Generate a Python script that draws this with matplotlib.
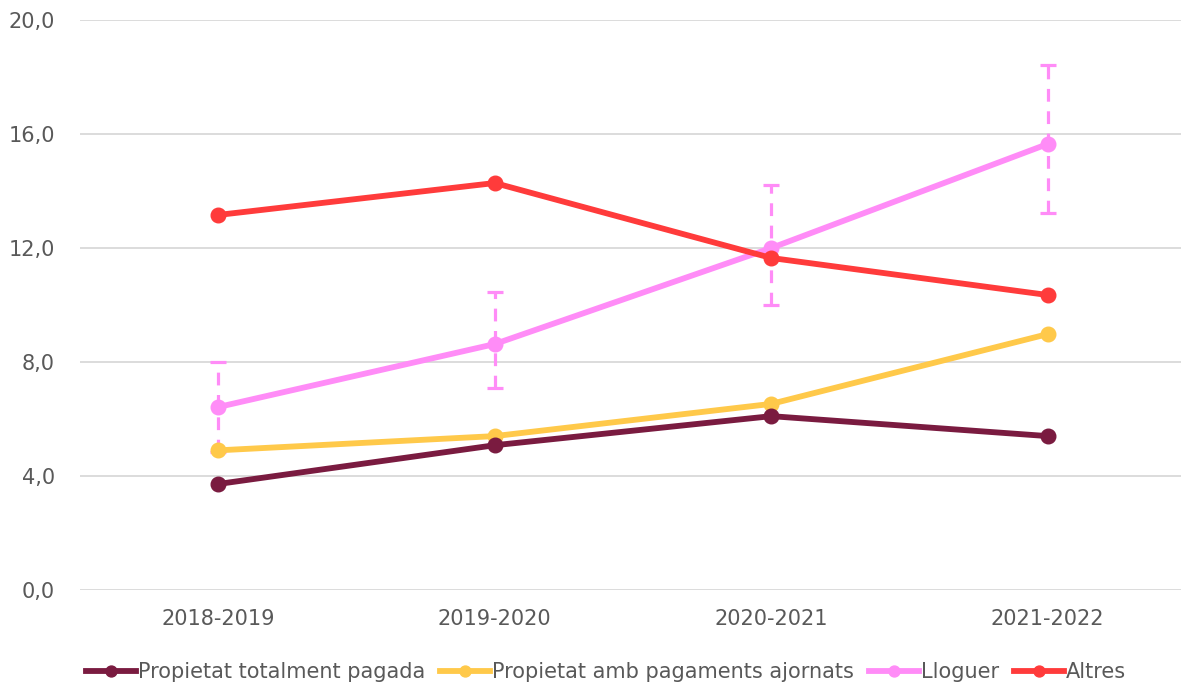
import matplotlib
matplotlib.use("Agg")
import matplotlib.pyplot as plt
import numpy as np

# ---- data ----
years = ["2018-2019", "2019-2020", "2020-2021", "2021-2022"]
pagada = [3.72, 5.08, 6.10, 5.40]
ajornats = [4.90, 5.40, 6.53, 8.98]
lloguer = [6.42, 8.63, 12.00, 15.65]
lloguer_lo = [4.85, 7.08, 10.00, 13.23]
lloguer_hi = [8.00, 10.46, 14.21, 18.42]
altres = [13.16, 14.28, 11.65, 10.35]

C_PAG = "#7a1b40"
C_AJO = "#ffc94a"
C_LLO = "#ff8cf7"
C_ALT = "#ff3b3b"
TXT = "#595959"

plt.rcParams.update({"font.family": ["DejaVu Sans"], "font.size": 13})

fig = plt.figure(figsize=(11.81, 6.90), dpi=100)
ax = fig.add_axes([80/1181, 1-590/690, 1106/1181, 570/690])
x = np.arange(len(years))

# error bars (dashed) for Lloguer, drawn underneath lines
yerr = [np.array(lloguer) - np.array(lloguer_lo), np.array(lloguer_hi) - np.array(lloguer)]
eb = ax.errorbar(x, lloguer, yerr=yerr, fmt="none", ecolor=C_LLO, elinewidth=2.3,
                 capsize=6, capthick=2.3, zorder=2)
for lc in eb[2]:
    lc.set_linestyle((0, (4, 3)))

kw = dict(lw=4.2, marker="o", ms=10.5)
ax.plot(x, lloguer, color=C_LLO, label="Lloguer", zorder=3, **kw)
ax.plot(x, altres, color=C_ALT, label="Altres", zorder=4, **kw)
ax.plot(x, ajornats, color=C_AJO, label="Propietat amb pagaments ajornats", zorder=4, **kw)
ax.plot(x, pagada, color=C_PAG, label="Propietat totalment pagada", zorder=5, **kw)

ax.set_xlim(-0.5, len(years) - 0.5)
ax.set_ylim(0, 20)
ax.set_yticks(np.arange(0, 21, 4))
ax.set_yticklabels([f"{v:.1f}".replace(".", ",") for v in np.arange(0, 21, 4)])
ax.set_xticks(x)
ax.set_xticklabels(years)
ax.tick_params(axis="both", length=0, colors=TXT, labelsize=15)
ax.tick_params(axis="x", pad=14)
ax.tick_params(axis="y", pad=18)
ax.grid(axis="y", color="#d9d9d9", lw=1.3, zorder=0)
ax.set_axisbelow(True)
for sp in ax.spines.values():
    sp.set_visible(False)

handles, labels = ax.get_legend_handles_labels()
order = [3, 2, 0, 1]
leg = fig.legend([handles[i] for i in order], [labels[i] for i in order],
                 loc="center", bbox_to_anchor=(606/1181, 1-672/690), ncol=4,
                 frameon=False, fontsize=15, handlelength=2.4, handletextpad=0.1,
                 columnspacing=0.7, markerscale=0.75)
for t in leg.get_texts():
    t.set_color(TXT)

fig.savefig("out.png", dpi=100, facecolor="white")
